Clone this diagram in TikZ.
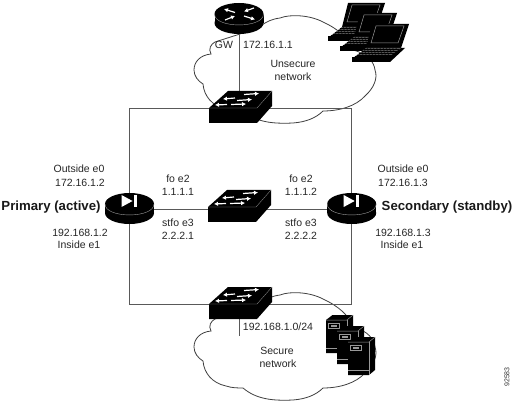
\documentclass[tikz,border=0pt]{standalone}
\usepackage{fontspec}
\setmainfont{Liberation Sans}
\usetikzlibrary{arrows.meta}
\definecolor{linegray}{gray}{0.35}
\definecolor{cloudgray}{gray}{0.25}
\definecolor{slotgray}{gray}{0.6}
\tikzset{
  lbl/.style={inner sep=0pt,font=\fontsize{10.5}{12}\selectfont,text=black!85},
  role/.style={inner sep=0pt,font=\fontsize{13.2}{15}\selectfont\bfseries,text=black!90},
  tag/.style={inner sep=0pt,font=\fontsize{7}{8}\selectfont,rotate=90,text=black!80},
  link/.style={draw=linegray,line width=0.8pt},
  cloudline/.style={draw=cloudgray,line width=0.8pt,fill=white},
  light/.style={draw=white,line width=1.2pt,-{Latex[length=4pt,width=4.5pt]}},
  anchorpt/.style={inner sep=0pt,minimum size=0pt,outer sep=0pt}
}
\newcommand{\cloudshape}{
  (215,42) .. controls (211,44) and (208,49) .. (211,54)
  .. controls (200,55) and (194,62) .. (194,70)
  .. controls (194,76) and (198,81) .. (203,84)
  .. controls (204,96) and (212,106) .. (226,109)
  .. controls (232,111) and (238,111) .. (243,111)
  .. controls (256,122) and (272,124) .. (293,123)
  .. controls (306,122) and (316,118) .. (323,111)
  .. controls (340,111) and (356,106) .. (365,96)
  .. controls (374,88) and (378,78) .. (375,70)
  .. controls (374,62) and (368,54) .. (353,50)
  .. controls (349,38) and (338,29) .. (323,22)
  .. controls (310,15) and (290,14) .. (280,18)
  .. controls (272,19) and (266,22) .. (262,25)
  -- (240,34) -- cycle
}
% switch: origin = left end of top edge of the front face
\newcommand{\switchicon}[1]{
  \begin{scope}[shift={#1}]
    \fill[black] (0,0) -- (19,-17) -- (63,-17) -- (63,-2) -- (48,15) -- (0,15) -- cycle;
    \draw[slotgray,line width=0.3pt] (0,0) -- (48,0) -- (63,-17);
    \draw[light] (26,-10) -- (14,-9);
    \draw[light] (35,-13.5) -- (50,-14.5);
    \draw[light] (28,-7.5) -- (43,-8.5);
    \draw[light] (18,-3.5) -- (6,-3);
    \draw[light] (22,-3.5) -- (37,-4);
  \end{scope}
}
% router: origin = centre of the top ellipse
\newcommand{\routerbody}[1]{
  \begin{scope}[shift={#1}]
    \fill[black] (0,0) ellipse[x radius=24.5pt,y radius=11pt];
    \fill[black] (0,9) ellipse[x radius=24.5pt,y radius=11pt];
    \fill[black] (-24.5,0) rectangle (24.5,9);
    \draw[slotgray,line width=0.4pt] (-24.5,0) .. controls (-24.5,14.6) and (24.5,14.6) .. (24.5,0);
  \end{scope}
}
\newcommand{\laptopicon}[1]{
  \begin{scope}[shift={#1}]
    \fill[black] (0,0) -- (37,0) -- (29,24) -- (-6,24) -- cycle;
    \draw[slotgray,line width=0.5pt,fill=black] (4,2) -- (32,2) -- (26,19) -- (-1,19) -- cycle;
    \fill[gray!70!black] (-6,24) -- (29,24) -- (18,34) -- (-19,34) -- cycle;
    \foreach \k in {1,...,5}{\draw[black,line width=0.45pt] ({-6-\k*2.2},{24+\k*1.7}) -- ({29-\k*2.2},{24+\k*1.7});}
    \foreach \k in {0,...,9}{\draw[black,line width=0.3pt] ({-4+\k*3.2},24) -- ({-17+\k*3.2},34);}
    \fill[black] (-20,33.5) -- (18,33.5) -- (18,38) -- (-20,38) -- cycle;
    \fill[black] (29,24) -- (33,24) -- (18,38) -- (17,33) -- cycle;
  \end{scope}
}
\newcommand{\servericon}[1]{
  \begin{scope}[shift={#1}]
    \fill[black] (0,0) -- (6.5,-5) -- (27,-5) -- (27,28) -- (21,33) -- (0,33) -- cycle;
    \draw[slotgray,line width=0.5pt] (0,0) -- (21,0) -- (27,-5);
    \draw[slotgray,line width=0.5pt] (21,0) -- (21,33);
    \draw[slotgray,line width=0.5pt] (0,28) -- (21,28);
    \draw[slotgray,line width=0.5pt] (2.5,3.5) rectangle (13,8.5);
    \fill[slotgray] (5,5) rectangle (10.5,7);
  \end{scope}
}
\begin{document}
\begin{tikzpicture}[x=1pt,y=-1pt]
\useasboundingbox (0,0) rectangle (512,401);
% clouds
\draw[cloudline] \cloudshape;
\begin{scope}[shift={(0,277)}]
  \draw[cloudline] \cloudshape;
\end{scope}
% attachment points
\node[anchorpt] (gw) at (239,20) {};
\node[anchorpt] (swtop) at (239,108) {};
\node[anchorpt] (swmid) at (235,209) {};
\node[anchorpt] (swlow) at (239,304) {};
\node[anchorpt] (pri) at (129.5,209) {};
\node[anchorpt] (sec) at (351.7,209) {};
\coordinate (lanend) at (239,336);
% connectors
\draw[link] (gw) -- (swtop);
\draw[link] (swtop) -| (pri);
\draw[link] (swtop) -| (sec);
\draw[link] (swlow) -| (pri);
\draw[link] (swlow) -| (sec);
\draw[link] (pri) -- (swmid);
\draw[link] (swmid) -- (sec);
\draw[link] (swlow) -- (lanend);
% switches
\switchicon{(209,108)}
\switchicon{(208,207)}
\switchicon{(209,304)}
% gateway router
\routerbody{(239,14)}
\begin{scope}[shift={(239,14)}]
  \draw[light] (-4,-1.5) -- (-15,-5);
  \draw[light] (15,-6) -- (5,-2.5);
  \draw[light] (-14,6) -- (-4,2);
  \draw[light] (5,2) -- (16,5.5);
\end{scope}
% firewalls
\routerbody{(129.5,204)}
\routerbody{(351.7,204)}
\foreach \c in {129.5,351.7}{
  \begin{scope}[shift={(\c,201)}]
    \fill[white] (-8,-6) -- (3,0) -- (-8,6) -- cycle;
    \fill[white] (4,-6) rectangle (7.5,6);
  \end{scope}
}
% hosts
\laptopicon{(348,3)}
\laptopicon{(360,13)}
\laptopicon{(372,24)}
\servericon{(326,320)}
\servericon{(337,331)}
\servericon{(348,342)}
% labels
\node[lbl] (t1) at (224,45) {GW};
\node[lbl] (t2) at (268,45) {172.16.1.1};
\node[lbl] (t3) at (293,64) {Unsecure};
\node[lbl] (t4) at (293,77) {network};
\node[lbl] (t5) at (79,169) {Outside e0};
\node[lbl] (t6) at (80,183) {172.16.1.2};
\node[role] (t7) at (51,207) {Primary (active)};
\node[lbl] (t8) at (80,233) {192.168.1.2};
\node[lbl] (t9) at (79,245) {Inside e1};
\node[lbl] (t10) at (178,179) {fo e2};
\node[lbl] (t11) at (178,192) {1.1.1.1};
\node[lbl] (t12) at (178,223) {stfo e3};
\node[lbl] (t13) at (178,236) {2.2.2.1};
\node[lbl] (t14) at (301,179) {fo e2};
\node[lbl] (t15) at (301,192) {1.1.1.2};
\node[lbl] (t16) at (301,223) {stfo e3};
\node[lbl] (t17) at (301,236) {2.2.2.2};
\node[lbl] (t18) at (403,169) {Outside e0};
\node[lbl] (t19) at (403,183) {172.16.1.3};
\node[role] (t20) at (447,207) {Secondary (standby)};
\node[lbl] (t21) at (403,233) {192.168.1.3};
\node[lbl] (t22) at (402,245) {Inside e1};
\node[lbl] (t23) at (278,327) {192.168.1.0/24};
\node[lbl] (t24) at (277,351) {Secure};
\node[lbl] (t25) at (278,364) {network};
\node[tag] (t26) at (507,377) {92583};
\end{tikzpicture}
\end{document}
